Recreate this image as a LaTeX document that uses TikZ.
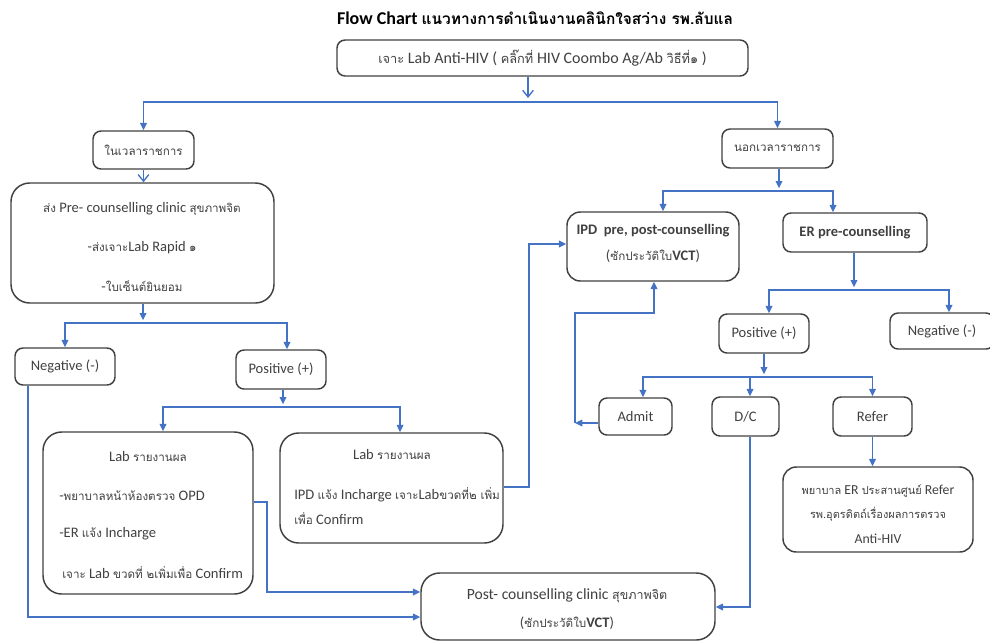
\documentclass[tikz,border=0pt]{standalone}
\usepackage{fontspec}
\setmainfont{Carlito}
\newfontfamily\thaifont[Script=Thai,Scale=0.8]{Loma}
\newcommand\thai[1]{{\thaifont #1}}
\usetikzlibrary{arrows.meta}
\definecolor{lnblue}{HTML}{4472C4}
\definecolor{bord}{HTML}{404040}
\definecolor{txt}{HTML}{404040}
% \bx{name}{x1}{y1}{x2}{y2}{style}{text}
\newcommand\bx[7]{\node[#6, minimum width={(#4-#2)*0.75pt}, minimum height={(#5-#3)*0.75pt}] (#1) at ({(#2+#4)/2},{(#3+#5)/2}) {#7};}
\begin{document}
\begin{tikzpicture}[x=0.75pt,y=-0.75pt,
  box/.style={draw=bord, line width=1.1pt, rounded corners=6pt, inner sep=0pt, text=txt, font=\fontsize{10.9}{13}\selectfont},
  bigbox/.style={box, rounded corners=14pt},
  lbl/.style={text=txt, font=\fontsize{10.9}{13}\selectfont, inner sep=0pt},
  small/.style={lbl, font=\fontsize{10.3}{12}\selectfont},
  titlefont/.style={text=black, inner sep=0pt, font=\fontsize{13.5}{16}\selectfont\bfseries},
  conn/.style={draw=lnblue, line width=1pt},
  arr/.style={conn, -{Triangle[length=5.5pt,width=5pt]}},
  chev/.style={conn, -{Straight Barb[length=5pt,width=8pt]}}
]
\useasboundingbox (0,0) rectangle (990,643);

% title
\node[titlefont] (title) at (535,18) {Flow Chart \thai{\fontsize{14.5}{16}\selectfont แนวทางการดำเนินงานคลินิกใจสว่าง รพ.ลับแล}};

% boxes
\bx{top}{337}{40}{748}{76}{box, font=\fontsize{12}{14}\selectfont}{\thai{เจาะ} Lab Anti-HIV ( \thai{คลิ๊กที่} HIV Coombo Ag/Ab \thai{วิธีที่๑} )}
\bx{in}{93}{131}{194}{169}{box}{\thai{ในเวลาราชการ}}
\bx{out}{722}{129}{833}{168}{box}{\thai{นอกเวลาราชการ}}
\bx{big}{11}{183}{274}{303}{bigbox}{}
\node[lbl] (big1) at (142,209) {\thai{ส่ง} Pre- counselling clinic \thai{สุขภาพจิต}};
\node[lbl] (big2) at (142,248) {-\thai{ส่งเจาะ}Lab Rapid \thai{๑}};
\node[lbl] (big3) at (142,286) {-\thai{ใบเซ็นต์ยินยอม}};

\bx{negL}{15}{348}{115}{385}{box}{Negative (-)}
\bx{posL}{236}{350}{326}{389}{box}{Positive (+)}

\bx{labL}{43}{432}{253}{594}{bigbox}{}
\node[lbl] (labL1) at (148,457) {Lab \thai{รายงานผล}};
\node[lbl,anchor=west] (labL2) at (59,496) {-\thai{พยาบาลหน้าห้องตรวจ} OPD};
\node[lbl,anchor=west] (labL3) at (59,534) {-ER \thai{แจ้ง} Incharge};
\node[lbl,anchor=west] (labL4) at (62,573) {\thai{เจาะ} Lab \thai{ขวดที่ ๒เพิ่มเพื่อ} Confirm};

\bx{labR}{280}{433}{503}{543}{bigbox}{}
\node[lbl] (labR1) at (392,455) {Lab \thai{รายงานผล}};
\node[lbl,anchor=west] (labR2) at (294,495) {IPD \thai{แจ้ง} Incharge \thai{เจาะ}Lab\thai{ขวดที่๒ เพิ่ม}};
\node[lbl,anchor=west] (labR3) at (294,519) {\thai{เพื่อ} Confirm};

\bx{ipd}{567}{212}{739}{281}{box, rounded corners=10pt}{}
\node[lbl,font=\fontsize{10.9}{13}\selectfont\bfseries] (ipd1) at (653,231) {IPD\ \ pre, post-counselling};
\node[lbl] (ipd2) at (653,256) {(\thai{ซักประวัติใบ}\textbf{VCT})};

\bx{er}{783}{213}{927}{252}{box}{\bfseries ER pre-counselling}
\bx{posR}{719}{314}{809}{353}{box}{Positive (+)}
\bx{negR}{890}{313}{994}{349}{box}{Negative (-)}
\bx{admit}{599}{398}{672}{435}{box}{Admit}
\bx{dc}{712}{397}{779}{436}{box}{D/C}
\bx{refer}{833}{397}{912}{436}{box}{Refer}

\bx{rdet}{783}{467}{973}{552}{box, rounded corners=10pt}{}
\node[small] (rdet1) at (878,491) {\thai{พยาบาล} ER \thai{ประสานศูนย์} Refer};
\node[small] (rdet2) at (878,514) {\thai{รพ.อุตรดิตถ์เรื่องผลการตรวจ}};
\node[small] (rdet3) at (878,539) {Anti-HIV};

\bx{post}{421}{573}{715}{640}{bigbox}{}
\node[lbl,font=\fontsize{11.7}{14}\selectfont] (post1) at (567,596) {Post- counselling clinic \thai{สุขภาพจิต}};
\node[lbl] (post2) at (567,623) {(\thai{ซักประวัติใบ}\textbf{VCT})};

% connectors
\coordinate (jA) at (528,102);
\draw[chev] (top.south -| jA) -- ([yshift=3pt]jA);
\draw[arr] (jA) -| (in.north);
\draw[arr] (jA) -| (out.north);
\draw[chev] (in.south) -- (in.south |- big.north);

\coordinate (jB) at (143,323);
\draw[arr] (big.south -| jB) -- ([yshift=2pt]jB);
\draw[arr] (jB) -| (negL.north);
\draw[arr] (jB) -| ([xshift=4.5pt]posL.north);

\coordinate (jC) at (283,407);
\draw[arr] (posL.south -| jC) -- ([yshift=2pt]jC);
\draw[arr] (jC) -| ([xshift=11.25pt]labL.north);
\draw[arr] (jC) -| ([xshift=6.4pt]labR.north);

\coordinate (cN) at (28,617);
\draw[arr] (negL.south -| cN) -- (cN) -- (cN -| post.west);

\coordinate (cL) at (267,502);
\coordinate (cL2) at (267,592);
\draw[arr] (labL.east |- cL) -- (cL) -- (cL2) -- (cL2 -| post.west);

\coordinate (cR) at (529,487);
\coordinate (cR2) at (529,244);
\draw[arr] (labR.east |- cR) -- (cR) -- (cR2) -- (cR2 -| ipd.west);

\coordinate (jD) at (779,191);
\draw[arr] (out.south -| jD) -- ([yshift=2pt]jD);
\draw[arr] (jD) -| ([xshift=7.5pt]ipd.north);
\draw[arr] (jD) -| ([xshift=-16.5pt]er.north);

\coordinate (jE) at (854,290);
\draw[arr] (er.south -| jE) -- ([yshift=2pt]jE);
\draw[arr] (jE) -| ([xshift=3.75pt]posR.north);
\draw[arr] (jE) -| ([xshift=5.25pt]negR.north);

\coordinate (jF) at (764,377);
\draw[arr] (posR.south -| jF) -- ([yshift=2pt]jF);
\draw[arr] (jF) -| ([xshift=5.6pt]admit.north);
\draw[arr] (jF) -| ([xshift=3.4pt]dc.north);
\draw[arr] (jF) -| (refer.north);

\coordinate (cA) at (575,423);
\coordinate (cA2) at (575,313);
\draw[arr] (admit.west |- cA) -- (cA);
\draw[arr] (cA) -- (cA2) -| ([xshift=0.75pt]ipd.south);

\coordinate (cD) at (750,607);
\draw[arr] (dc.south -| cD) -- (cD) -- (cD -| post.east);

\draw[arr] (refer.south) -- (refer.south |- rdet.north);
\end{tikzpicture}
\end{document}
